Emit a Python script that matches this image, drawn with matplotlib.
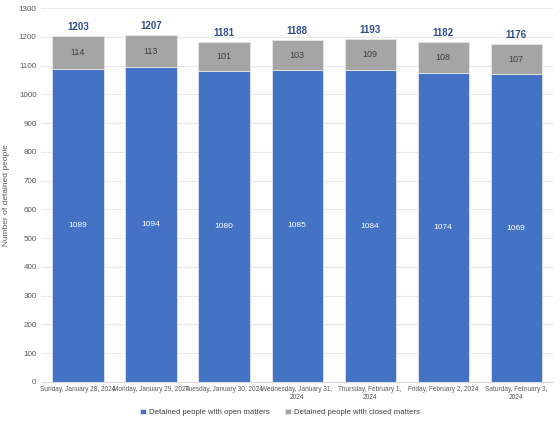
import matplotlib
matplotlib.use("Agg")
import matplotlib.pyplot as plt
import numpy as np

plt.rcParams['font.family'] = ['Liberation Sans', 'DejaVu Sans']

categories = ["Sunday, January 28, 2024", "Monday, January 29, 2024", "Tuesday, January 30, 2024",
              "Wednesday, January 31,\n2024", "Thursday, February 1,\n2024", "Friday, February 2, 2024",
              "Saturday, February 3,\n2024"]
open_matters = [1089, 1094, 1080, 1085, 1084, 1074, 1069]
closed_matters = [114, 113, 101, 103, 109, 108, 107]
totals = [1203, 1207, 1181, 1188, 1193, 1182, 1176]

blue = "#4472C4"
grey = "#A5A5A5"

fig = plt.figure(figsize=(5.6, 4.23), dpi=100)
ax = fig.add_axes([0.074, 0.097, 0.913, 0.884])
x = np.arange(len(categories))
w = 0.7
ax.bar(x, open_matters, w, color=blue, edgecolor="#dfe6f3", linewidth=0.6, label="Detained people with open matters", zorder=2)
ax.bar(x, closed_matters, w, bottom=open_matters, color=grey, edgecolor="#e6e6e6", linewidth=0.6,
       label="Detained people with closed matters", zorder=2)

for i in range(len(x)):
    ax.text(x[i], open_matters[i] / 2, str(open_matters[i]), ha="center", va="center", color="white", fontsize=6)
    ax.text(x[i], open_matters[i] + closed_matters[i] / 2, str(closed_matters[i]), ha="center", va="center",
            color="#404040", fontsize=6.5)
    ax.text(x[i], totals[i] + 14, str(totals[i]), ha="center", va="bottom", color="#2F4F8F",
            fontsize=7, fontweight="bold")

ax.set_ylim(0, 1300)
ax.set_yticks(range(0, 1301, 100))
ax.set_xlim(-0.5, len(x) - 0.5)
ax.set_xticks(x)
ax.set_xticklabels(categories, fontsize=4.7, color="#595959", linespacing=1.1)
ax.tick_params(axis="y", labelsize=5.8, labelcolor="#595959", length=0)
ax.tick_params(axis="x", length=0, pad=3)
ax.grid(axis="y", color="#e8e8e8", linewidth=0.8, zorder=0)
ax.set_axisbelow(True)
for s in ["top", "right", "left"]:
    ax.spines[s].set_visible(False)
ax.spines["bottom"].set_color("#d9d9d9")
ax.set_ylabel("Number of detained people", fontsize=6, color="#595959", labelpad=6)

fig.legend(loc="lower center", bbox_to_anchor=(0.5, 0.0), ncol=2, frameon=False, fontsize=5.6,
           handlelength=0.7, handleheight=0.7, columnspacing=2, labelcolor="#404040", handletextpad=0.4)
fig.savefig("out.png", dpi=100)
